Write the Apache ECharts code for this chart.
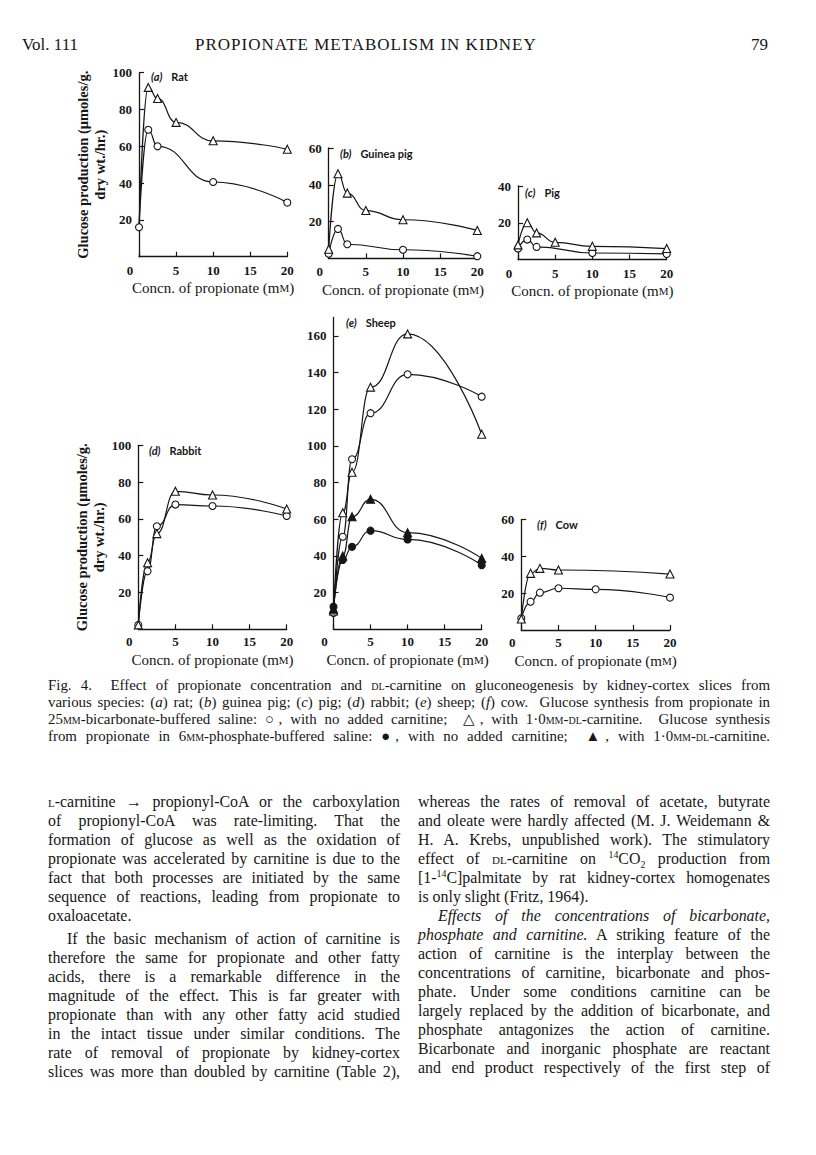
<!DOCTYPE html>
<html>
<head>
<meta charset="utf-8">
<script src="https://cdn.jsdelivr.net/npm/echarts@6/dist/echarts.min.js"></script>
<style>
  body { margin: 0; background: #fff; }
  #page { position: relative; width: 816px; height: 1155px; overflow: hidden; font-family: 'Liberation Serif', serif; color: #161616; background: #fff; }
  #chart { position: absolute; left: 0; top: 0; width: 816px; height: 680px; }
  .hdr { position: absolute; top: 35px; font-size: 17px; line-height: 20px; z-index: 2; }
  .ln { position: absolute; white-space: nowrap; text-align: justify; text-align-last: justify; }
  .ln.end { text-align-last: left; }
  .cap { left: 48px; width: 722px; font-size: 14.9px; line-height: 17px; }
  .col { width: 352px; font-size: 15.9px; line-height: 19px; }
  .sc { font-variant: small-caps; }
  sup, sub { font-size: 0.62em; line-height: 0; }
</style>
</head>
<body>
<div id="page">
  <div id="chart"></div>

  <div class="hdr" style="left:22px">Vol. 111</div>
  <div class="hdr" style="left:195px; letter-spacing:1px">PROPIONATE METABOLISM IN KIDNEY</div>
  <div class="hdr" style="left:751px">79</div>

  <div class="ln cap" style="top:677px">Fig. 4.&nbsp; Effect of propionate concentration and <span class="sc">dl</span>-carnitine on gluconeogenesis by kidney-cortex slices from</div>
  <div class="ln cap" style="top:694px">various species: (<i>a</i>) rat; (<i>b</i>) guinea pig; (<i>c</i>) pig; (<i>d</i>) rabbit; (<i>e</i>) sheep; (<i>f</i>) cow.&nbsp; Glucose synthesis from propionate in</div>
  <div class="ln cap" style="top:711px">25<span class="sc">mm</span>-bicarbonate-buffered saline: ○, with no added carnitine;&nbsp; △, with 1·0<span class="sc">mm-dl</span>-carnitine.&nbsp; Glucose synthesis</div>
  <div class="ln cap" style="top:728px">from propionate in 6<span class="sc">mm</span>-phosphate-buffered saline: ●, with no added carnitine;&nbsp; ▲, with 1·0<span class="sc">mm-dl</span>-carnitine.</div>

  <div class="ln col" style="left:48px; top:792px"><span class="sc">l</span>-carnitine → propionyl-CoA or the carboxylation</div>
  <div class="ln col" style="left:48px; top:811px">of propionyl-CoA was rate-limiting. That the</div>
  <div class="ln col" style="left:48px; top:830px">formation of glucose as well as the oxidation of</div>
  <div class="ln col" style="left:48px; top:849px">propionate was accelerated by carnitine is due to the</div>
  <div class="ln col" style="left:48px; top:868px">fact that both processes are initiated by the same</div>
  <div class="ln col" style="left:48px; top:887px">sequence of reactions, leading from propionate to</div>
  <div class="ln col end" style="left:48px; top:906px">oxaloacetate.</div>
  <div class="ln col" style="left:67px; width:333px; top:929px">If the basic mechanism of action of carnitine is</div>
  <div class="ln col" style="left:48px; top:948px">therefore the same for propionate and other fatty</div>
  <div class="ln col" style="left:48px; top:967px">acids, there is a remarkable difference in the</div>
  <div class="ln col" style="left:48px; top:986px">magnitude of the effect. This is far greater with</div>
  <div class="ln col" style="left:48px; top:1005px">propionate than with any other fatty acid studied</div>
  <div class="ln col" style="left:48px; top:1024px">in the intact tissue under similar conditions. The</div>
  <div class="ln col" style="left:48px; top:1043px">rate of removal of propionate by kidney-cortex</div>
  <div class="ln col" style="left:48px; top:1062px">slices was more than doubled by carnitine (Table 2),</div>

  <div class="ln col" style="left:418px; top:792px">whereas the rates of removal of acetate, butyrate</div>
  <div class="ln col" style="left:418px; top:811px">and oleate were hardly affected (M. J. Weidemann &amp;</div>
  <div class="ln col" style="left:418px; top:830px">H. A. Krebs, unpublished work). The stimulatory</div>
  <div class="ln col" style="left:418px; top:849px">effect of <span class="sc">dl</span>-carnitine on <sup>14</sup>CO<sub>2</sub> production from</div>
  <div class="ln col" style="left:418px; top:868px">[1-<sup>14</sup>C]palmitate by rat kidney-cortex homogenates</div>
  <div class="ln col end" style="left:418px; top:887px">is only slight (Fritz, 1964).</div>
  <div class="ln col" style="left:438px; width:332px; top:906px"><i>Effects of the concentrations of bicarbonate,</i></div>
  <div class="ln col" style="left:418px; top:925px"><i>phosphate and carnitine.</i> A striking feature of the</div>
  <div class="ln col" style="left:418px; top:944px">action of carnitine is the interplay between the</div>
  <div class="ln col" style="left:418px; top:963px">concentrations of carnitine, bicarbonate and phos-</div>
  <div class="ln col" style="left:418px; top:982px">phate. Under some conditions carnitine can be</div>
  <div class="ln col" style="left:418px; top:1001px">largely replaced by the addition of bicarbonate, and</div>
  <div class="ln col" style="left:418px; top:1020px">phosphate antagonizes the action of carnitine.</div>
  <div class="ln col" style="left:418px; top:1039px">Bicarbonate and inorganic phosphate are reactant</div>
  <div class="ln col" style="left:418px; top:1058px">and end product respectively of the first step of</div>
</div>

<script>
// propionate concentrations (mM) used in every panel
const conc = [0, 1.25, 2.5, 5, 10, 20];

// glucose production, umoles/g dry wt./hr; "None" = no carnitine, "Carn" = 1.0 mM DL-carnitine
const ratNone = [16, 69, 60, null, 40.6, 29.4];
const ratCarn = [16, 92, 86, 73, 63, 58.4];
const guineaNone = [2.5, 16, 7.7, null, 4.7, 1.2];
const guineaCarn = [5, 46, 35.5, 26, 21, 15.2];
const pigNone = [6, 10.9, 6.9, null, 3.6, 3.1];
const pigCarn = [8, 20, 14.5, 9.4, 7.2, 6];
const rabbitNone = [2.4, 31.6, 56, 67.8, 67, 61.6];
const rabbitCarn = [2.4, 36.2, 52, 75, 73, 65.4];
const sheepBicNone = [9, 50.5, 92.7, 117.8, 139, 126.8];
const sheepBicCarn = [10, 63.6, 85.6, 132, 161, 106.3];
const sheepPhosNone = [12.4, 37.8, 45, 53.8, 49, 35];
const sheepPhosCarn = [11, 40, 61.4, 70.9, 52.7, 38.7];
const cowNone = [6.4, 15.4, 20.3, 22.7, 22.1, 17.6];
const cowCarn = [6, 30.8, 33.5, 32.6, null, 30.4];

const ink = '#161616';
const serif = 'Liberation Serif';

// line entries: [values, marker, filled, hide marker at 0 mM]
const panels = [
    {grid: {left: 139, top: 72.7, width: 148.3, height: 184}, ymax: 100, yName: true, nameGap: 24, labelMargin: 7,
        label: ['(a)', 'Rat'], tl: [151, 71], lines: [[ratNone, 'circle', false], [ratCarn, 'triangle', false, true]]},
    {grid: {left: 328.7, top: 148, width: 148.6, height: 110.4}, ymax: 60, nameGap: 24, labelMargin: 7,
        label: ['(b)', 'Guinea pig'], tl: [340, 148], lines: [[guineaNone, 'circle', false], [guineaCarn, 'triangle', false]]},
    {grid: {left: 518, top: 186, width: 148.7, height: 73.6}, ymax: 40, nameGap: 24, labelMargin: 7,
        label: ['(c)', 'Pig'], tl: [525, 187], lines: [[pigNone, 'circle', false], [pigCarn, 'triangle', false]]},
    {grid: {left: 138.3, top: 445.3, width: 148.4, height: 184}, ymax: 100, yName: true, nameGap: 23, labelMargin: 6,
        label: ['(d)', 'Rabbit'], tl: [149, 445], lines: [[rabbitNone, 'circle', false], [rabbitCarn, 'triangle', false]]},
    {grid: {left: 333.5, top: 317.4, width: 148.2, height: 312}, ymax: 170, nameGap: 23, labelMargin: 6,
        label: ['(e)', 'Sheep'], tl: [346, 317], lines: [[sheepBicNone, 'circle', false], [sheepBicCarn, 'triangle', false],
            [sheepPhosNone, 'circle', true], [sheepPhosCarn, 'triangle', true]]},
    {grid: {left: 521.3, top: 519.6, width: 148.7, height: 110.4}, ymax: 60, nameGap: 23, labelMargin: 6,
        label: ['(f)', 'Cow'], tl: [537, 519], lines: [[cowNone, 'circle', false], [cowCarn, 'triangle', false]]},
];

const yTicks = max => {
    const out = [];
    for (let v = 20; v <= max; v += 20) out.push(v);
    return out;
};

const option = {
    animation: false,
    title: panels.map(p => ({
        text: `{i|${p.label[0]}}{n|${p.label[1]}}`,
        left: p.tl[0],
        top: p.tl[1],
        padding: 0,
        textStyle: {
            rich: {
                i: {fontFamily: 'Lato', fontStyle: 'italic', fontSize: 11, color: ink, padding: [0, 9, 0, 0]},
                n: {fontFamily: 'Lato', fontSize: 11, color: ink},
            },
        },
    })),
    grid: panels.map(p => p.grid),
    xAxis: panels.map((p, i) => ({
        type: 'value',
        gridIndex: i,
        min: 0,
        max: 20,
        interval: 5,
        name: 'Concn. of propionate (m{s|M})',
        nameLocation: 'middle',
        nameGap: p.nameGap,
        nameTextStyle: {fontFamily: serif, fontSize: 15, color: ink, rich: {s: {fontFamily: serif, fontSize: 11, color: ink}}},
        axisLine: {lineStyle: {color: ink, width: 1.3}},
        axisTick: {inside: true, length: 5, lineStyle: {color: ink, width: 1.2}},
        axisLabel: {
            margin: p.labelMargin,
            fontFamily: serif, fontWeight: 'bold', fontSize: 13, color: ink,
            formatter: v => v === 0 ? '{z|0}' : String(v),
            rich: {z: {fontFamily: serif, fontWeight: 'bold', fontSize: 13, color: ink, padding: [0, 18, 0, 0]}},
        },
        splitLine: {show: false},
    })),
    yAxis: panels.map((p, i) => ({
        type: 'value',
        gridIndex: i,
        min: 0,
        max: p.ymax,
        interval: 20,
        name: p.yName ? 'Glucose production (μmoles/g.\ndry wt./hr.)' : '',
        nameLocation: 'middle',
        nameGap: 30,
        nameRotate: 90,
        nameTextStyle: {fontFamily: serif, fontWeight: 'bold', fontSize: 14.5, lineHeight: 17, color: ink},
        axisLine: {show: true, lineStyle: {color: ink, width: 1.3}},
        axisTick: {show: true, inside: true, length: 5, lineStyle: {color: ink, width: 1.2}, customValues: yTicks(p.ymax)},
        axisLabel: {
            margin: 7,
            fontFamily: serif, fontWeight: 'bold', fontSize: 13, color: ink,
            customValues: yTicks(p.ymax),
            formatter: v => (v === 0 || v % 20 !== 0) ? '' : String(v),
        },
        splitLine: {show: false},
    })),
    series: panels.flatMap((p, i) => p.lines.map(([vals, shape, filled, hideZero]) => ({
        type: 'line',
        xAxisIndex: i,
        yAxisIndex: i,
        data: conc.map((c, k) => (hideZero && k === 0)
            ? {value: [c, vals[k]], symbol: 'none'}
            : [c, vals[k]]),
        connectNulls: true,
        smooth: 0.5,
        smoothMonotone: 'x',
        symbol: shape,
        symbolSize: shape === 'triangle' ? 8 : 7,
        showAllSymbol: true,
        lineStyle: {color: ink, width: 1.2},
        itemStyle: {color: filled ? ink : '#fff', borderColor: ink, borderWidth: 1.1},
        z: 3,
    }))),
};

const chart = echarts.init(document.getElementById('chart'), null, {renderer: 'svg'});
chart.setOption(option);
</script>
</body>
</html>
